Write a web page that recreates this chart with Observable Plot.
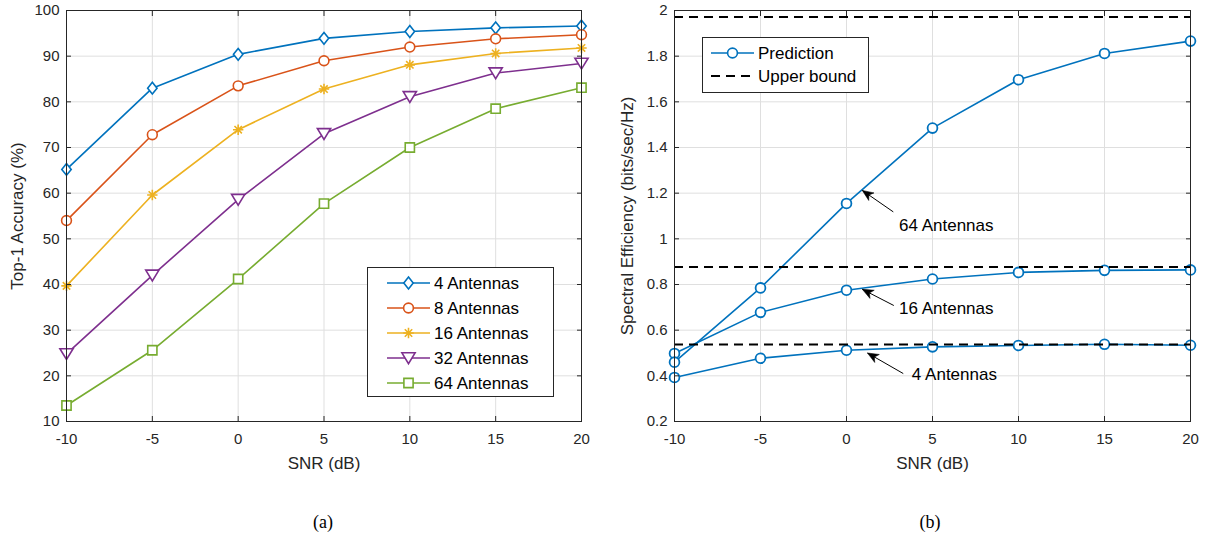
<!DOCTYPE html>
<html>
<head>
<meta charset="utf-8">
<script src="https://cdn.jsdelivr.net/npm/d3@7"></script>
<script src="https://cdn.jsdelivr.net/npm/@observablehq/plot@0.6"></script>
<style>
html,body{margin:0;padding:0;background:#fff;}
#wrap{position:relative;width:1205px;height:539px;overflow:hidden;background:#fff;font-family:"Liberation Sans",Arial,Helvetica,sans-serif;}
.panel{position:absolute;top:0;}
.legend{position:absolute;overflow:visible;}
.cap{position:absolute;top:510px;font-family:"Liberation Serif","Times New Roman",serif;font-size:18px;color:#000;transform:translateX(-50%);line-height:24px;white-space:nowrap;}
</style>
</head>
<body>
<div id="wrap"></div>
<script>
// ---------- data ----------
const snr = [-10, -5, 0, 5, 10, 15, 20];
const xTicks = [-10, -5, 0, 5, 10, 15, 20];
const accTicks = [10, 20, 30, 40, 50, 60, 70, 80, 90, 100];
const seTicks = [0.2, 0.4, 0.6, 0.8, 1, 1.2, 1.4, 1.6, 1.8, 2];

const antennaLabels = ["4 Antennas", "8 Antennas", "16 Antennas", "32 Antennas", "64 Antennas"];
const acc4  = [65.2, 83.0, 90.4, 93.9, 95.4, 96.2, 96.6];
const acc8  = [54.0, 72.8, 83.5, 89.0, 92.0, 93.8, 94.7];
const acc16 = [39.7, 59.6, 73.9, 82.8, 88.1, 90.6, 91.8];
const acc32 = [24.8, 42.0, 58.6, 73.0, 81.1, 86.3, 88.4];
const acc64 = [13.5, 25.6, 41.2, 57.7, 70.0, 78.5, 83.1];
const seriesColors = ["#0072BD", "#D95319", "#EDB120", "#7E2F8E", "#77AC30"];

const predictionLabels = ["4 Antennas", "16 Antennas", "64 Antennas"];
const se4  = [0.393, 0.477, 0.512, 0.527, 0.533, 0.538, 0.534];
const se16 = [0.498, 0.678, 0.775, 0.824, 0.853, 0.862, 0.864];
const se64 = [0.460, 0.785, 1.155, 1.485, 1.697, 1.812, 1.866];
const upperBound = [0.537, 0.877, 1.972];

const annotText  = ["64 Antennas", "16 Antennas", "4 Antennas"];
const arrowTipX  = [0.92, 0.92, 1.22];
const arrowTipY  = [1.212, 0.779, 0.500];
const arrowTailX = [2.72, 2.75, 3.30];
const arrowTailY = [1.118, 0.708, 0.410];
const annotX     = [3.05, 3.05, 3.80];
const annotY     = [1.058, 0.696, 0.406];

// ---------- markers ----------
const SYM = {
  diamond: {draw(c){c.moveTo(0,-5.9);c.lineTo(4.7,0);c.lineTo(0,5.9);c.lineTo(-4.7,0);c.closePath();}},
  circle: {draw(c){c.moveTo(4.9,0);c.arc(0,0,4.9,0,2*Math.PI);c.closePath();}},
  star: {draw(c){
    c.moveTo(-5.2,0);c.lineTo(5.2,0);
    c.moveTo(0,-5.2);c.lineTo(0,5.2);
    c.moveTo(-3.7,-3.7);c.lineTo(3.7,3.7);
    c.moveTo(-3.7,3.7);c.lineTo(3.7,-3.7);
  }},
  triangleDown: {draw(c){c.moveTo(-6.6,-5.2);c.lineTo(6.6,-5.2);c.lineTo(0,5.6);c.closePath();}},
  square: {draw(c){c.moveTo(-4.6,-4.6);c.lineTo(4.6,-4.6);c.lineTo(4.6,4.6);c.lineTo(-4.6,4.6);c.closePath();}},
  arrowHead: {draw(c){c.moveTo(0,0);c.lineTo(4.6,11);c.lineTo(0,8);c.lineTo(-4.6,11);c.closePath();}}
};
const seriesSymbols = [SYM.diamond, SYM.circle, SYM.star, SYM.triangleDown, SYM.square];

const FONT = '"Liberation Sans", Arial, Helvetica, sans-serif';
const AX = "#262626";
const GRID = "#dfdfdf";

function frameAxes(xt, yt, yFmt, xLabel, yLabel, yLabelDx) {
  return [
    Plot.frame({stroke: AX, strokeWidth: 1}),
    Plot.axisX(xt, {anchor: "bottom", tickSize: -5, tickPadding: 17, tickFormat: d => String(d), label: null, fontSize: 15}),
    Plot.axisX(xt, {anchor: "top", tickSize: -5, tickFormat: () => "", label: null}),
    Plot.axisY(yt, {anchor: "left", tickSize: -5, tickPadding: 12, tickFormat: yFmt, label: null, fontSize: 15}),
    Plot.axisY(yt, {anchor: "right", tickSize: -5, tickFormat: () => "", label: null}),
    Plot.text([xLabel], {frameAnchor: "bottom", dy: 35, lineAnchor: "top", fontSize: 17, fill: AX}),
    Plot.text([yLabel], {frameAnchor: "left", dx: yLabelDx, rotate: -90, lineAnchor: "top", textAnchor: "middle", fontSize: 17, fill: AX})
  ];
}

const wrap = document.getElementById("wrap");

// ---------- panel (a) ----------
const accSeries = [acc4, acc8, acc16, acc32, acc64];
const rowsA = antennaLabels.flatMap((s, i) => snr.map((x, j) => ({s, x, y: accSeries[i][j]})));

const plotA = Plot.plot({
  width: 602, height: 480,
  marginLeft: 66, marginRight: 21, marginTop: 10, marginBottom: 59,
  style: {fontFamily: FONT, fontSize: "15px", color: AX, background: "transparent", overflow: "visible"},
  x: {domain: [-10, 20]},
  y: {domain: [10, 100]},
  color: {domain: antennaLabels, range: seriesColors},
  marks: [
    Plot.gridX(xTicks, {stroke: GRID, strokeOpacity: 1}),
    Plot.gridY(accTicks, {stroke: GRID, strokeOpacity: 1}),
    Plot.line(rowsA, {x: "x", y: "y", z: "s", stroke: "s", strokeWidth: 1.6}),
    ...antennaLabels.map((lab, i) =>
      Plot.dot(rowsA.filter(d => d.s === lab), {x: "x", y: "y", symbol: seriesSymbols[i], stroke: seriesColors[i], fill: i === 2 ? "none" : "white", strokeWidth: 1.6})
    ),
    ...frameAxes(xTicks, accTicks, d => String(d), "SNR (dB)", "Top-1 Accuracy (%)", -56)
  ]
});
plotA.classList.add("panel");
plotA.style.left = "0px";
wrap.appendChild(plotA);

// ---------- panel (b) ----------
const seSeries = [se4, se16, se64];
const rowsB = predictionLabels.flatMap((s, i) => snr.map((x, j) => ({s, x, y: seSeries[i][j]})));
const annots = annotText.map((t, i) => ({t, tx: arrowTipX[i], ty: arrowTipY[i], sx: arrowTailX[i], sy: arrowTailY[i], lx: annotX[i], ly: annotY[i]}));

const optsB = {
  width: 602, height: 480,
  marginLeft: 71, marginRight: 15, marginTop: 10, marginBottom: 59,
  style: {fontFamily: FONT, fontSize: "15px", color: AX, background: "transparent", overflow: "visible"},
  x: {domain: [-10, 20]},
  y: {domain: [0.2, 2]}
};
// first pass: read the scales to orient the arrowheads in screen space
const probe = Plot.plot({...optsB, marks: [Plot.frame()]});
const sx = probe.scale("x"), sy = probe.scale("y");
annots.forEach(a => {
  const dx = sx.apply(a.tx) - sx.apply(a.sx);
  const dy = sy.apply(a.ty) - sy.apply(a.sy);
  a.angle = Math.atan2(dx, -dy) * 180 / Math.PI;
});

const plotB = Plot.plot({
  ...optsB,
  marks: [
    Plot.gridX(xTicks, {stroke: GRID, strokeOpacity: 1}),
    Plot.gridY(seTicks, {stroke: GRID, strokeOpacity: 1}),
    Plot.line(rowsB, {x: "x", y: "y", z: "s", stroke: "#0072BD", strokeWidth: 1.6}),
    Plot.dot(rowsB, {x: "x", y: "y", symbol: SYM.circle, stroke: "#0072BD", fill: "white", strokeWidth: 1.8}),
    Plot.ruleY(upperBound, {stroke: "black", strokeWidth: 2, strokeDasharray: "9,6"}),
    Plot.link(annots, {x1: "sx", y1: "sy", x2: "tx", y2: "ty", stroke: "black", strokeWidth: 1}),
    Plot.dot(annots, {x: "tx", y: "ty", symbol: SYM.arrowHead, rotate: "angle", fill: "black", stroke: "black", strokeWidth: 0.5}),
    Plot.text(annots, {x: "lx", y: "ly", text: "t", textAnchor: "start", fontSize: 17, fill: "black"}),
    ...frameAxes(xTicks, seTicks, d => String(+d.toFixed(1)), "SNR (dB)", "Spectral Efficiency (bits/sec/Hz)", -54)
  ]
});
plotB.classList.add("panel");
plotB.style.left = "603px";
wrap.appendChild(plotB);

// ---------- legends ----------
function makeLegend(left, top, w, h, entries) {
  const svg = d3.create("svg").attr("class", "legend").attr("width", w).attr("height", h)
    .style("left", left + "px").style("top", top + "px");
  svg.append("rect").attr("x", 0.5).attr("y", 0.5).attr("width", w - 1).attr("height", h - 1)
    .attr("fill", "white").attr("stroke", AX).attr("stroke-width", 1);
  entries.forEach(e => {
    const g = svg.append("g").attr("transform", `translate(0,${e.y})`);
    g.append("line").attr("x1", e.x1).attr("x2", e.x2).attr("y1", 0).attr("y2", 0)
      .attr("stroke", e.color).attr("stroke-width", e.dash ? 2 : 1.6).attr("stroke-dasharray", e.dash || null);
    if (e.symbol) {
      g.append("path").attr("d", d3.symbol().type(e.symbol)()).attr("transform", `translate(${(e.x1 + e.x2) / 2},0)`)
        .attr("fill", e.fill).attr("stroke", e.color).attr("stroke-width", 1.6);
    }
    g.append("text").attr("x", e.tx).attr("y", 0).attr("dy", "0.35em").attr("fill", "black")
      .style("font-family", FONT).style("font-size", "17px").text(e.label);
  });
  wrap.appendChild(svg.node());
}

makeLegend(367, 267, 187, 130, antennaLabels.map((lab, i) => ({
  label: lab, y: 16 + i * 25, x1: 20, x2: 63, tx: 67, color: seriesColors[i], symbol: seriesSymbols[i], fill: i === 2 ? "none" : "white"
})));

const legendBLabels = ["Prediction", "Upper bound"];
makeLegend(702, 37, 167, 56, [
  {label: legendBLabels[0], y: 16, x1: 9, x2: 52, tx: 56, color: "#0072BD", symbol: SYM.circle, fill: "white"},
  {label: legendBLabels[1], y: 39, x1: 9, x2: 52, tx: 56, color: "black", dash: "9,6"}
]);

// ---------- captions ----------
const captions = ["(a)", "(b)"];
[323, 930].forEach((cx, i) => {
  const d = document.createElement("div");
  d.className = "cap";
  d.style.left = cx + "px";
  d.textContent = captions[i];
  wrap.appendChild(d);
});
</script>
</body>
</html>
